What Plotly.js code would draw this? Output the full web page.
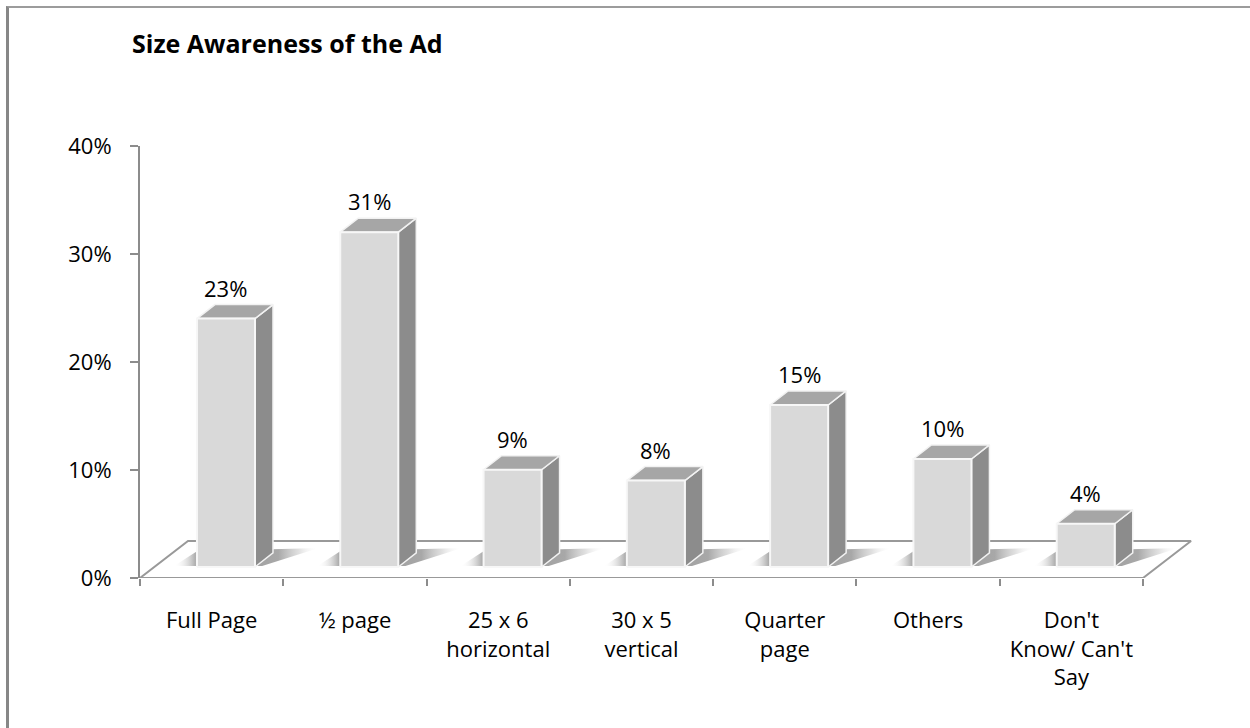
<!DOCTYPE html>
<html>
<head>
<meta charset="utf-8">
<script src="https://cdn.plot.ly/plotly-3.0.1.min.js"></script>
<style>
  html, body { margin: 0; padding: 0; background: #fff; }
  #chart { position: absolute; left: 0; top: 0; width: 1250px; height: 728px; }
  #frame { position: absolute; left: 6px; top: 6px; width: 1260px; height: 740px;
           border-left: 3px solid #878787; border-top: 2px solid #9c9c9c; pointer-events: none; }
</style>
</head>
<body>
<div id="chart"></div>
<div id="frame"></div>
<script>
// ---- data ----
const categories = ["Full Page", "½ page", "25 x 6<br>horizontal", "30 x 5<br>vertical", "Quarter<br>page", "Others", "Don't<br>Know/ Can't<br>Say"];
const values = [23, 31, 9, 8, 15, 10, 4];
const valueLabels = ["23%", "31%", "9%", "8%", "15%", "10%", "4%"];
const yTickVals = [0, 10, 20, 30, 40];
const yTickText = ["0%", "10%", "20%", "30%", "40%"];
const chartTitle = "Size Awareness of the Ad";

// ---- 3D look parameters (in axis units) ----
const FLOOR_DX = 0.335, FLOOR_DY = 3.43;   // depth of the floor
const BAR_SHIFT = 0.10, BAR_BASE = 1.02;   // where the bar front sits in depth
const BAR_W = 0.405;                       // front face width
const SIDE_DX = 0.1256, SIDE_DY = 1.30;    // bar depth
const FONT = "'Open Sans', Lato, sans-serif";
const n = categories.length;
const idx = categories.map((_, i) => i);

const traces = [];

// floor
traces.push({
  type: "scatter", mode: "lines", hoverinfo: "skip", showlegend: false,
  x: [-0.5, n - 0.5, n - 0.5 + FLOOR_DX, -0.5 + FLOOR_DX, -0.5],
  y: [0, 0, FLOOR_DY, FLOOR_DY, 0],
  fill: "toself", fillcolor: "#ffffff",
  line: { color: "#999999", width: 2 }
});

// soft shadows behind each bar
idx.forEach(i => {
  const xl = i + BAR_SHIFT - BAR_W / 2, xr = i + BAR_SHIFT + BAR_W / 2;
  const b = BAR_BASE;
  traces.push({
    type: "scatter", mode: "lines", hoverinfo: "skip", showlegend: false,
    x: [xl - 0.16, xr + 0.05, xr + SIDE_DX + 0.32, xl + 0.0, xl - 0.16],
    y: [b + 0.1, b + 0.1, b + 1.75, b + 1.45, b + 0.1],
    fill: "toself", line: { width: 0 },
    fillgradient: {
      type: "horizontal",
      colorscale: [[0, "rgba(255,255,255,0)"], [0.17, "rgba(100,100,100,0.7)"],
                   [0.72, "rgba(110,110,110,0.6)"], [0.86, "rgba(150,150,150,0.3)"],
                   [1, "rgba(255,255,255,0)"]]
    }
  });
});

// bar faces
const fx = [], fy = [], sx = [], sy = [], tx = [], ty = [];
idx.forEach(i => {
  const v = values[i];
  const xl = i + BAR_SHIFT - BAR_W / 2, xr = i + BAR_SHIFT + BAR_W / 2;
  const b = BAR_BASE;
  fx.push(xl, xr, xr, xl, xl, null);
  fy.push(b, b, b + v, b + v, b, null);
  sx.push(xr, xr + SIDE_DX, xr + SIDE_DX, xr, xr, null);
  sy.push(b, b + SIDE_DY, b + v + SIDE_DY, b + v, b, null);
  tx.push(xl, xr, xr + SIDE_DX, xl + SIDE_DX, xl, null);
  ty.push(b + v, b + v, b + v + SIDE_DY, b + v + SIDE_DY, b + v, null);
});
traces.push({
  type: "scatter", mode: "lines", hoverinfo: "skip", showlegend: false,
  x: sx, y: sy, fill: "toself", fillcolor: "#8c8c8c",
  line: { color: "#f2f2f2", width: 1.5 }
});
traces.push({
  type: "scatter", mode: "lines", hoverinfo: "skip", showlegend: false,
  x: tx, y: ty, fill: "toself", fillcolor: "#a6a6a6",
  line: { color: "#f2f2f2", width: 1.5 }
});
traces.push({
  type: "scatter", mode: "lines", hoverinfo: "skip", showlegend: false,
  x: fx, y: fy, fill: "toself", fillcolor: "#d9d9d9",
  line: { color: "#f7f7f7", width: 2 }
});

const annotations = idx.map(i => ({
  x: i + BAR_SHIFT, y: BAR_BASE + values[i] + SIDE_DY, xref: "x", yref: "y",
  text: valueLabels[i], showarrow: false, yanchor: "bottom", yshift: 0,
  font: { family: FONT, size: 22, color: "#000" }
}));

const layout = {
  width: 1250, height: 728,
  margin: { l: 140, r: 58, t: 146, b: 150, pad: 0 },
  paper_bgcolor: "rgba(0,0,0,0)", plot_bgcolor: "rgba(0,0,0,0)",
  showlegend: false,
  title: {
    text: "<b>" + chartTitle + "</b>", xref: "container", yref: "container",
    x: 132 / 1250, xanchor: "left", y: 1 - 44 / 728, yanchor: "middle",
    font: { family: FONT, size: 25, color: "#000" }
  },
  xaxis: {
    range: [-0.5, -0.5 + 1052 / 143.29], fixedrange: true,
    tickmode: "array", tickvals: idx, ticktext: categories,
    ticks: "", showline: false, showgrid: false, zeroline: false,
    ticklabelstandoff: 27,
    tickfont: { family: FONT, size: 22, color: "#000" },
    minor: { tickmode: "array", tickvals: idx.concat([n]).map(i => i - 0.5),
             ticks: "outside", ticklen: 7, tickwidth: 2, tickcolor: "#8c8c8c", showgrid: false }
  },
  yaxis: {
    range: [0, 40], fixedrange: true,
    tickmode: "array", tickvals: yTickVals, ticktext: yTickText,
    ticks: "outside", ticklen: 8, tickwidth: 2, tickcolor: "#8c8c8c",
    showline: true, linecolor: "#8c8c8c", linewidth: 2,
    showgrid: false, zeroline: false, ticklabelstandoff: 14,
    tickfont: { family: FONT, size: 22, color: "#000" }
  },
  annotations: annotations
};

Plotly.newPlot("chart", traces, layout, { displayModeBar: false, staticPlot: true });
</script>
</body>
</html>
